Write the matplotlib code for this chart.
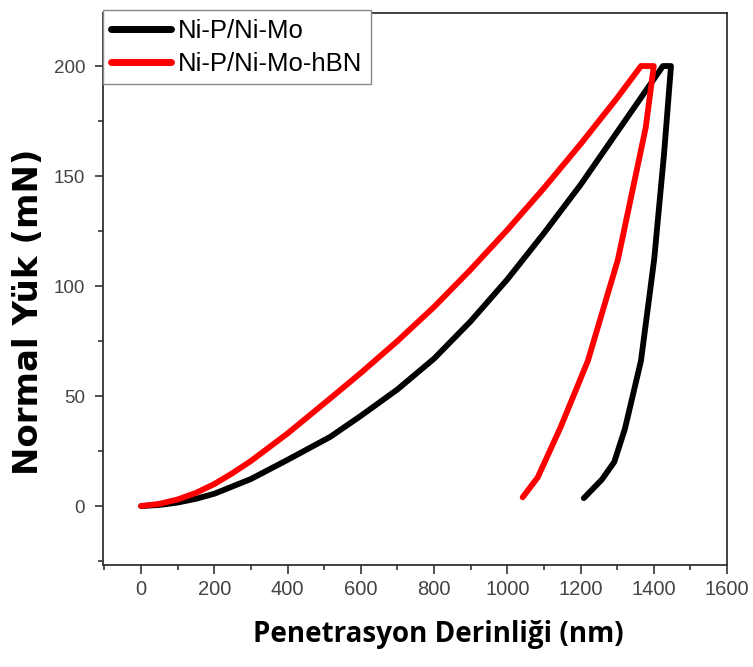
import matplotlib.pyplot as plt

# Ni-P/Ni-Mo: loading branch, hold at peak, unloading branch (depth nm, load mN)
np_mo_depth = [0, 50, 100, 150, 200, 300, 400, 517, 600, 700, 800, 900, 1000, 1100, 1200, 1300, 1425,
               1447, 1428, 1401, 1365, 1321, 1292, 1258, 1209]
np_mo_load = [0, 0.5, 1.6, 3.3, 5.6, 12.3, 21, 31.5, 41, 53, 67, 84, 103, 124, 146, 170, 200,
              200, 160, 112, 66, 35, 20, 12, 3.6]

# Ni-P/Ni-Mo-hBN
hbn_depth = [0, 50, 100, 150, 200, 250, 300, 400, 517, 600, 700, 800, 900, 1000, 1100, 1200, 1300, 1365,
             1400, 1378, 1302, 1220, 1146, 1083, 1042]
hbn_load = [0, 1.0, 3.0, 6.0, 10, 15, 20.5, 33, 49, 60.5, 75, 90.5, 107.5, 125.5, 144.5, 164.5, 185.5, 200,
            200, 172, 112, 66, 36, 13, 4]

fig, ax = plt.subplots(figsize=(7.53, 6.67), dpi=100)
fig.subplots_adjust(left=0.1368, right=0.9655, top=0.9805, bottom=0.1529)

ax.plot(np_mo_depth, np_mo_load, color="black", lw=4.2, solid_capstyle="round",
        solid_joinstyle="round", label="Ni-P/Ni-Mo")
ax.plot(hbn_depth, hbn_load, color="#ff0000", lw=4.2, solid_capstyle="round",
        solid_joinstyle="round", label="Ni-P/Ni-Mo-hBN")

ax.set_xlim(-104, 1600)
ax.set_ylim(-26.8, 224.1)
ax.set_xticks(range(0, 1601, 200))
ax.set_xticks(range(-100, 1600, 200), minor=True)
ax.set_yticks(range(0, 201, 50))
ax.set_yticks(range(-25, 225, 50), minor=True)
ax.tick_params(which="both", direction="out", color="#333333", width=1.2)
ax.tick_params(axis="x", which="major", length=6.5, pad=4, labelsize=14.5, labelcolor="#444444")
ax.tick_params(axis="x", which="minor", length=3.8)
ax.tick_params(axis="y", which="major", length=5.8, pad=7, labelsize=13.5, labelcolor="#444444")
ax.tick_params(axis="y", which="minor", length=3.6)
for lab in ax.get_xticklabels() + ax.get_yticklabels():
    lab.set_family("Liberation Sans")
for s in ax.spines.values():
    s.set_color("#333333")
    s.set_linewidth(1.3)

ax.set_xlabel("Penetrasyon Derinliği (nm)", fontsize=20, fontweight="bold", family="Open Sans")
ax.xaxis.set_label_coords(0.537, -0.1)
ax.set_ylabel("Normal Yük (mN)", fontsize=24.5, fontweight="bold", family="DejaVu Sans")
ax.yaxis.set_label_coords(-0.093, 0.458)

leg = ax.legend(loc="upper left", bbox_to_anchor=(0.0, 1.0054), fancybox=False,
                edgecolor="#888888", framealpha=1, handlelength=2.3, borderpad=0.33,
                labelspacing=0.36, handletextpad=0.28, borderaxespad=0,
                prop={"family": "Liberation Sans", "size": 18.5})
for h in leg.get_lines():
    h.set_linewidth(5)

fig.savefig("out.png", dpi=100)
